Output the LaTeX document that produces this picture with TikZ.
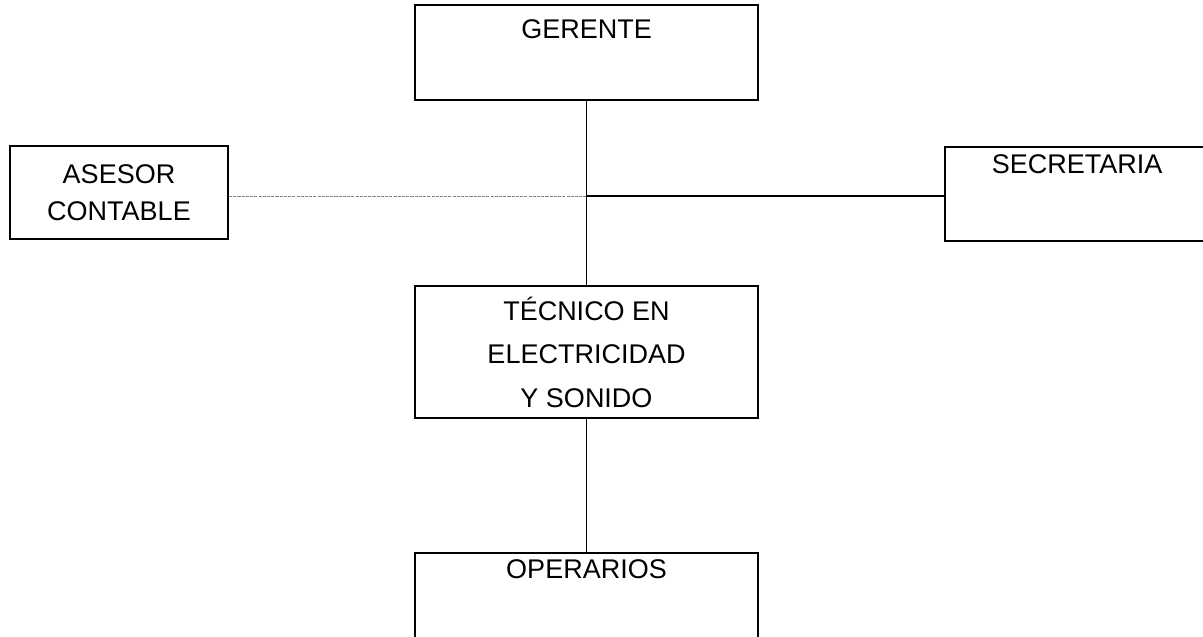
\documentclass[tikz,border=0pt]{standalone}
\usepackage{fontspec}
\setmainfont{Liberation Sans}

\begin{document}
\begin{tikzpicture}[x=0.025cm, y=-0.025cm,
font=\fontsize{19.2}{23}\selectfont,
orgbox/.style={draw, line width=1.4pt, inner sep=0pt, align=center},
ln/.style={line width=1.4pt}]
\tikzstyle{dots} = [gray, line width=0.6pt, dash pattern=on 2.2pt off 0.8pt]
\useasboundingbox (0,0) rectangle (1203,637);

% boxes
\node[orgbox, anchor=north, minimum width=8.575cm, text height=0.85cm, text depth=1.525cm] (ger) at (586.5,4) {GERENTE};
\node[orgbox, minimum width=5.45cm, minimum height=2.325cm, font=\fontsize{19.2}{26.3}\selectfont] (ase) at (119,192.5) {ASESOR\\CONTABLE};
\node[orgbox, anchor=north, minimum width=6.6cm, text height=0.675cm, text depth=1.675cm] (sec) at (1077,146) {SECRETARIA};
\node[orgbox, minimum width=8.575cm, minimum height=3.3cm, font=\fontsize{19.2}{30.9}\selectfont] (tec) at (586.5,352) {TÉCNICO EN\\ELECTRICIDAD\\Y SONIDO};
\node[orgbox, anchor=north, minimum width=8.575cm, text height=0.65cm, text depth=3cm] (ope) at (586.5,552) {OPERARIOS};

% lines
\coordinate (jn) at (586.5,196);
\draw[ln] (ger.south) -- (tec.north);
\draw[ln] (jn) -- (jn -| sec.west);
\draw[dots] (jn -| ase.east) -- (jn);
\draw[ln] (tec.south) -- (ope.north);

\end{tikzpicture}
\end{document}
